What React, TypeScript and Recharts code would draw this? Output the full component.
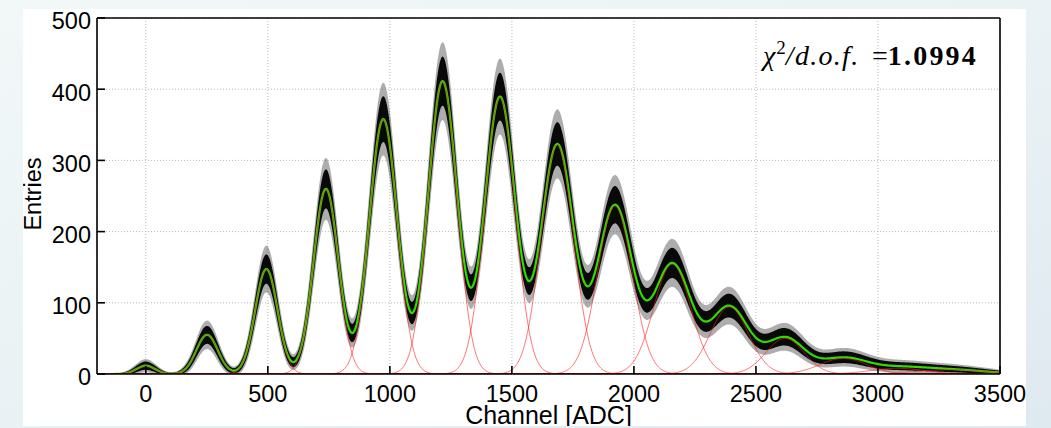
import React from 'react';
import { ComposedChart, Line, Area, XAxis, YAxis, CartesianGrid } from 'recharts';

// Fit components: channel of each photo-electron peak,
// its height (Entries) and its width (sigma, channels)
const peakChannels = [0, 251, 494, 738, 973, 1216, 1451, 1686, 1922, 2157, 2391, 2619, 2858, 3080, 3300];
const peakHeights = [11.7, 55, 147.5, 260, 358, 411, 389, 322, 236, 154, 94, 50, 22, 8, 6];
const peakSigmas = [38, 44, 46, 51, 57, 59, 62, 66, 71, 76, 78, 78, 95, 110, 140];

const xTicks = [0, 500, 1000, 1500, 2000, 2500, 3000, 3500];
const yTicks = [0, 100, 200, 300, 400, 500];
const xDomain: [number, number] = [-200, 3500];
const yDomain: [number, number] = [0, 500];
const binWidth = 4;
// spread of the measured entries around the fit, in units of sqrt(N) (Poisson error bars)
const errorSpread = { inner: 1.7, outer: 2.7 };
const chi2Value = '1.0994';

type Row = { [k: string]: number | number[] };

const data: Row[] = [];
for (let ch = xDomain[0]; ch <= xDomain[1]; ch += binWidth) {
  const row: Row = { ch };
  let fit = 0;
  peakChannels.forEach((m, i) => {
    const g = peakHeights[i] * Math.exp(-((ch - m) * (ch - m)) / (2 * peakSigmas[i] * peakSigmas[i]));
    row['g' + i] = g;
    fit += g;
  });
  row.fit = fit;
  const e = Math.sqrt(fit);
  row.inner = [Math.max(0, fit - errorSpread.inner * e), fit + errorSpread.inner * e];
  row.outer = [Math.max(0, fit - errorSpread.outer * e), fit + errorSpread.outer * e];
  data.push(row);
}

const FONT = '"Liberation Sans", Arial, Helvetica, sans-serif';
const SERIF = '"Liberation Serif", "Times New Roman", serif';
const xTickStyle = { fill: '#000', fontSize: 23.5, fontFamily: FONT };
const yTickStyle = { fill: '#000', fontSize: 23.5, fontFamily: FONT, dy: 3 };
const axisStroke = { stroke: '#000', strokeWidth: 1.6 };

export default function App() {
  return (
    <div
      style={{
        position: 'absolute',
        left: 0,
        top: 0,
        width: 1051,
        height: 428,
        overflow: 'hidden',
        background: 'linear-gradient(160deg, #f2f8f8 0%, #e9f1f4 55%, #dfe9f0 100%)',
      }}
    >
      <div
        style={{
          position: 'absolute',
          left: 23,
          top: 9,
          width: 1003,
          height: 417,
          background: '#fff',
          overflow: 'hidden',
        }}
      >
        <ComposedChart width={1003} height={417} data={data} margin={{ top: 8, right: 25, bottom: 0, left: 0 }}>
          <CartesianGrid stroke="#b8b8b8" strokeDasharray="1 2" strokeWidth={1} />
          <XAxis
            xAxisId={0}
            dataKey="ch"
            type="number"
            domain={xDomain}
            ticks={xTicks}
            interval={0}
            allowDataOverflow
            height={52}
            tickSize={-8}
            tickMargin={19}
            tick={xTickStyle}
            axisLine={axisStroke}
            tickLine={axisStroke}
          />
          <XAxis
            xAxisId="top"
            orientation="top"
            type="number"
            domain={xDomain}
            ticks={xTicks}
            interval={0}
            allowDataOverflow
            height={1}
            tickSize={-8}
            tick={false}
            axisLine={axisStroke}
            tickLine={axisStroke}
          />
          <YAxis
            yAxisId={0}
            type="number"
            domain={yDomain}
            ticks={yTicks}
            interval={0}
            allowDataOverflow
            width={74}
            tickSize={-8}
            tickMargin={14}
            tick={yTickStyle}
            axisLine={axisStroke}
            tickLine={axisStroke}
          />
          <YAxis
            yAxisId="right"
            orientation="right"
            type="number"
            domain={yDomain}
            ticks={yTicks}
            interval={0}
            allowDataOverflow
            width={1}
            tickSize={-8}
            tick={false}
            axisLine={axisStroke}
            tickLine={axisStroke}
          />
          <Area
            dataKey="outer"
            type="linear"
            stroke="none"
            fill="#4a4a4a"
            fillOpacity={0.45}
            isAnimationActive={false}
            dot={false}
            activeDot={false}
          />
          <Area
            dataKey="inner"
            type="linear"
            stroke="none"
            fill="#000"
            fillOpacity={0.95}
            isAnimationActive={false}
            dot={false}
            activeDot={false}
          />
          <Line
            dataKey="fit"
            type="linear"
            stroke="#2fdc00"
            strokeWidth={2.2}
            dot={false}
            activeDot={false}
            isAnimationActive={false}
          />
          {peakChannels.map((_, i) => (
            <Line
              key={i}
              dataKey={'g' + i}
              type="linear"
              stroke="#ff1a1a"
              strokeOpacity={0.75}
              strokeWidth={0.8}
              dot={false}
              activeDot={false}
              isAnimationActive={false}
            />
          ))}
        </ComposedChart>
        <svg
          width={1003}
          height={417}
          style={{ position: 'absolute', left: 0, top: 0, pointerEvents: 'none' }}
        >
          <text
            x={18}
            y={185}
            transform="rotate(-90, 18, 185)"
            textAnchor="middle"
            fontFamily={FONT}
            fontSize={23.5}
            fill="#000"
          >
            Entries
          </text>
          <text x={525.5} y={415} textAnchor="middle" fontFamily={FONT} fontSize={25} fill="#000">
            Channel [ADC]
          </text>
          <text x={740} y={56} fontFamily={SERIF} fontSize={28} fill="#000">
            <tspan fontStyle="italic" letterSpacing={1}>χ</tspan>
            <tspan fontSize={19} dy={-11}>2</tspan>
            <tspan dy={11} fontStyle="italic" letterSpacing={1.3}>/d.o.f.</tspan>
            <tspan x={849}>=</tspan>
            <tspan fontWeight="bold" letterSpacing={2.2}>{chi2Value}</tspan>
          </text>
        </svg>
      </div>
    </div>
  );
}
